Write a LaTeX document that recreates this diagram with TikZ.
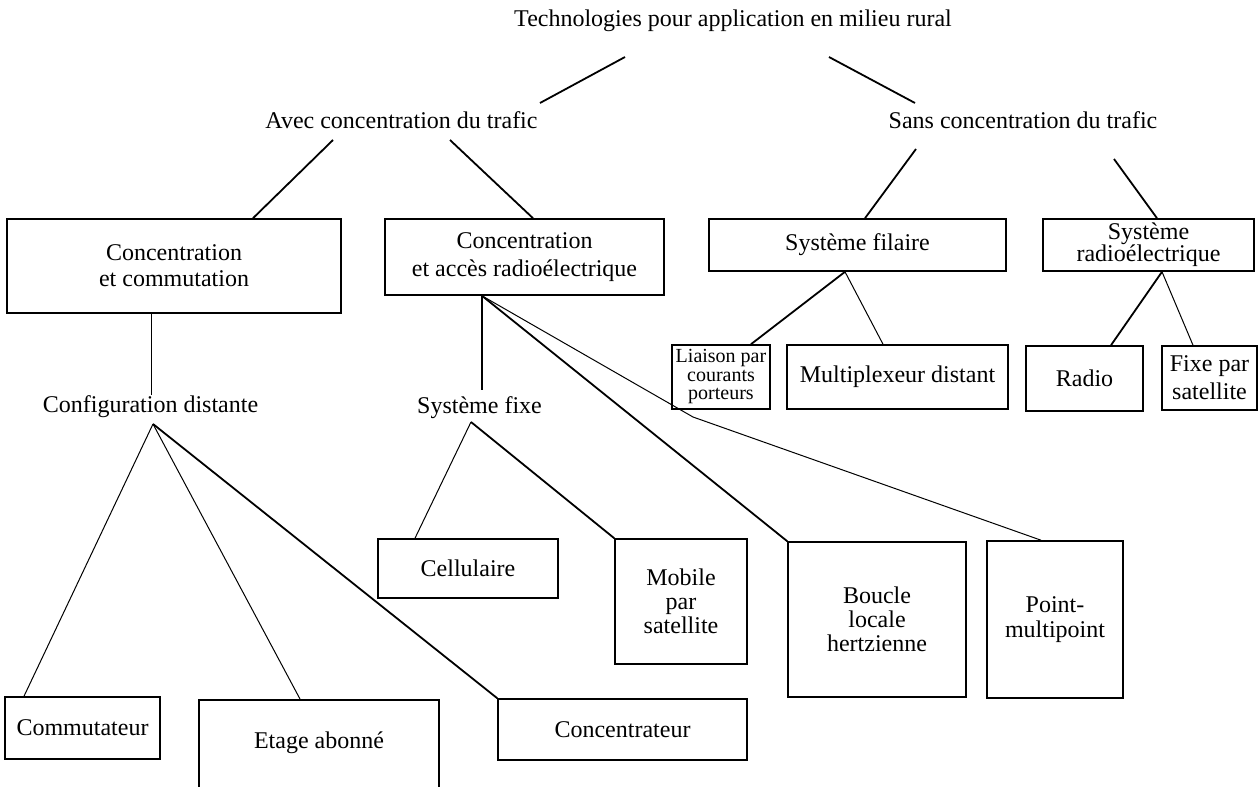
\documentclass[tikz,border=0pt]{standalone}
\usepackage{fontspec}
\setmainfont{Liberation Serif}
\begin{document}
\begin{tikzpicture}[x=0.5pt,y=-0.5pt]
        \tikzstyle{every node} = [inner sep=0pt, align=center, font=\fontsize{12}{13}\selectfont]
        \tikzstyle{box} = [draw, rectangle, line width=0.8pt]
        \tikzstyle{thin link} = [line width=0.5pt]
        \tikzstyle{thick link} = [line width=0.9pt]
        \useasboundingbox (0,0) rectangle (1259,787);
        % plain labels
        \node (title) at (733,21) {Technologies pour application en milieu rural};
        \node (avec) at (401.5,120) {Avec concentration du trafic};
        \node (sans) at (1023,120) {Sans concentration du trafic};
        \node (config) at (150.5,407) {Configuration distante};
        \node (fixe) at (479.5,408) {Système fixe};
        % boxes
        \node[box, minimum width=167pt, minimum height=47pt] (commut) at (174,266) {Concentration\\et commutation};
        \node[box, minimum width=139.5pt, minimum height=38pt, font=\fontsize{12}{14}\selectfont] (acces) at (524.5,257) {Concentration\\et accès radioélectrique};
        \node[box, minimum width=148.5pt, minimum height=26pt] (filaire) at (857.5,245) {Système filaire};
        \node[box, minimum width=105.5pt, minimum height=26pt, font=\fontsize{12}{11}\selectfont] (radioel) at (1148.5,245) {Système\\radioélectrique};
        \node[box, minimum width=49pt, minimum height=32pt, font=\fontsize{10}{9.25}\selectfont] (liaison) at (721,377) {Liaison par\\courants\\porteurs};
        \node[box, minimum width=110.5pt, minimum height=32pt] (multiplex) at (897.5,377) {Multiplexeur distant};
        \node[box, minimum width=58.5pt, minimum height=32.5pt] (radio) at (1084.5,378.5) {Radio};
        \node[box, minimum width=47.5pt, minimum height=32pt, font=\fontsize{12}{14}\selectfont] (fixesat) at (1209.5,378) {Fixe par\\satellite};
        \node[box, minimum width=90pt, minimum height=29.5pt] (cellul) at (468,568.5) {Cellulaire};
        \node[box, minimum width=66pt, minimum height=62.5pt, font=\fontsize{12}{12}\selectfont] (mobile) at (681,601.5) {Mobile\\par\\satellite};
        \node[box, minimum width=89pt, minimum height=77.5pt, font=\fontsize{12}{12}\selectfont] (boucle) at (877,619.5) {Boucle\\locale\\hertzienne};
        \node[box, minimum width=68pt, minimum height=78.5pt, font=\fontsize{12}{12.5}\selectfont] (pointmp) at (1055,619.5) {Point-\\multipoint};
        \node[box, minimum width=77.5pt, minimum height=31pt] (commutateur) at (82.5,728) {Commutateur};
        \node[box, anchor=north, minimum width=120pt, text height=24.5pt, text depth=26pt] (etage) at (319,699) {Etage abonné};
        \node[box, minimum width=124.5pt, minimum height=30.5pt] (concentrateur) at (622.5,729.5) {Concentrateur};
        \coordinate (bend) at (693,417);
        % links
        \draw[thick link] ([shift={(-108,36)}]title.center) -- ([shift={(138.5,-17)}]avec.center);
        \draw[thick link] ([shift={(96,36)}]title.center) -- ([shift={(-108,-17)}]sans.center);
        \draw[thick link] ([shift={(-68.5,20)}]avec.center) -- ([shift={(79,0)}]commut.north);
        \draw[thick link] ([shift={(48.5,20)}]avec.center) -- ([shift={(8.5,0)}]acces.north);
        \draw[thick link] ([shift={(-107,29)}]sans.center) -- ([shift={(7.5,0)}]filaire.north);
        \draw[thick link] ([shift={(91,39)}]sans.center) -- ([shift={(8.5,0)}]radioel.north);
        \draw[thick link] ([shift={(-12.5,0)}]filaire.south) -- ([shift={(30,0)}]liaison.north);
        \draw[thin link] ([shift={(-12.5,0)}]filaire.south) -- ([shift={(-14.5,0)}]multiplex.north);
        \draw[thick link] ([shift={(13.5,0)}]radioel.south) -- ([shift={(26.5,0)}]radio.north);
        \draw[thin link] ([shift={(13.5,0)}]radioel.south) -- ([shift={(-16.5,0)}]fixesat.north);
        \draw[thin link] ([shift={(-23,0)}]commut.south) -- ([shift={(0.5,-12)}]config.center);
        \draw[thin link] ([shift={(2.5,17)}]config.center) -- ([shift={(-58.5,0)}]commutateur.north);
        \draw[thin link] ([shift={(2.5,17)}]config.center) -- ([shift={(-19,0)}]etage.north);
        \draw[thick link] ([shift={(2.5,17)}]config.center) -- (concentrateur.north west);
        \draw[thick link] ([shift={(-42.5,0)}]acces.south) -- ([shift={(2.5,-18)}]fixe.center);
        \draw[thin link] ([shift={(-8.5,14)}]fixe.center) -- ([shift={(-53,0)}]cellul.north);
        \draw[thick link] ([shift={(-8.5,14)}]fixe.center) -- (mobile.north west);
        \draw[thick link] ([shift={(-42.5,0)}]acces.south) -- (boucle.north west);
        \draw[thin link] ([shift={(-42.5,0)}]acces.south) -- (bend) -- ([shift={(-14,0)}]pointmp.north);
    \end{tikzpicture}
\end{document}
